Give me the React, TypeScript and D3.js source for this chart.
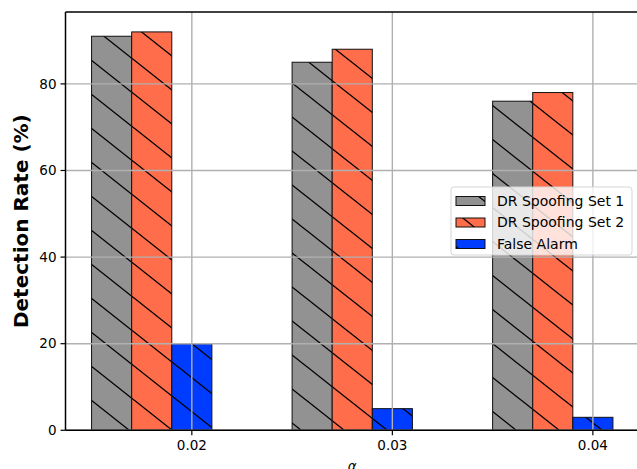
import React from "react";
import * as d3 from "d3";

// Detection rates per alpha threshold
const alphaLabels = ["0.02", "0.03", "0.04"];
const seriesNames = ["DR Spoofing Set 1", "DR Spoofing Set 2", "False Alarm"];
const spoofingSet1 = [91, 85, 76];
const spoofingSet2 = [92, 88, 78];
const falseAlarm = [20, 5, 3];
const yTicks = [0, 20, 40, 60, 80];

const seriesValues = [spoofingSet1, spoofingSet2, falseAlarm];
const seriesColors = ["#929292", "#ff6d4b", "#003cff"];

const W = 637;
const H = 469;
const plot = { left: 65.5, right: 639, top: 12, bottom: 430.3 };
const barWidth = 0.2;
const FONT = "'DejaVu Sans', sans-serif";

export default function App() {
  const x = d3.scaleLinear().domain([-0.63, 2.23]).range([plot.left, plot.right]);
  const y = d3.scaleLinear().domain([0, 96.6]).range([plot.bottom, plot.top]);

  const barOffsets = [-2 * barWidth, -barWidth, 0];

  const legendX = 451;
  const legendY = 187;
  const legendRows = [201, 222.5, 244];

  return (
    <svg
      width={W}
      height={H}
      style={{ position: "absolute", left: 0, top: 0, background: "#fff" }}
      fontFamily={FONT}
    >
      <defs>
        <pattern id="hatch" patternUnits="userSpaceOnUse" x={91} y={332} width={43} height={34}>
          <line x1={-43} y1={-34} x2={86} y2={68} stroke="#000" strokeWidth={1.3} />
          <line x1={-43} y1={0} x2={43} y2={68} stroke="#000" strokeWidth={1.3} />
          <line x1={0} y1={-34} x2={86} y2={34} stroke="#000" strokeWidth={1.3} />
        </pattern>
        <clipPath id="plotClip">
          <rect x={plot.left} y={plot.top} width={plot.right - plot.left} height={plot.bottom - plot.top} />
        </clipPath>
      </defs>

      {/* bars */}
      <g clipPath="url(#plotClip)">
        {seriesValues.map((vals, si) =>
          vals.map((v, i) => {
            const x0 = x(i + barOffsets[si] - barWidth / 2);
            const x1 = x(i + barOffsets[si] + barWidth / 2);
            return (
              <g key={`${si}-${i}`}>
                <rect x={x0} y={y(v)} width={x1 - x0} height={y(0) - y(v)} fill={seriesColors[si]} />
                <rect x={x0} y={y(v)} width={x1 - x0} height={y(0) - y(v)} fill="url(#hatch)" stroke="#111" strokeWidth={1} />
              </g>
            );
          })
        )}

        {/* grid above the bars */}
        {yTicks.map((t) => (
          <line key={`gy${t}`} x1={plot.left} x2={plot.right} y1={y(t)} y2={y(t)} stroke="#b0b0b0" strokeWidth={1.4} />
        ))}
        {alphaLabels.map((_, i) => (
          <line key={`gx${i}`} x1={x(i)} x2={x(i)} y1={plot.top} y2={plot.bottom} stroke="#b0b0b0" strokeWidth={1.4} />
        ))}
      </g>

      {/* spines */}
      <line x1={plot.left} x2={plot.left} y1={plot.top} y2={plot.bottom} stroke="#000" strokeWidth={1.5} />
      <line x1={plot.left} x2={plot.right} y1={plot.top} y2={plot.top} stroke="#000" strokeWidth={1.5} />
      <line x1={plot.left} x2={plot.right} y1={plot.bottom} y2={plot.bottom} stroke="#000" strokeWidth={1.5} />
      <line x1={plot.right} x2={plot.right} y1={plot.top} y2={plot.bottom} stroke="#000" strokeWidth={1.5} />

      {/* y axis */}
      {yTicks.map((t) => (
        <g key={`yt${t}`}>
          <line x1={plot.left - 5} x2={plot.left} y1={y(t)} y2={y(t)} stroke="#000" strokeWidth={1.2} />
          <text x={plot.left - 9} y={y(t)} dy="0.35em" textAnchor="end" fontSize={13.5} fill="#000">
            {t}
          </text>
        </g>
      ))}

      {/* x axis */}
      {alphaLabels.map((lab, i) => (
        <g key={`xt${i}`}>
          <line x1={x(i)} x2={x(i)} y1={plot.bottom} y2={plot.bottom + 5} stroke="#000" strokeWidth={1.2} />
          <text x={x(i)} y={plot.bottom + 20} textAnchor="middle" fontSize={13.5} fill="#000">
            {lab}
          </text>
        </g>
      ))}

      <text
        x={(plot.left + plot.right) / 2}
        y={plot.bottom + 41}
        textAnchor="middle"
        fontSize={13.5}
        fontStyle="italic"
        fill="#000"
      >
        α
      </text>

      <text
        transform={`translate(28, ${(plot.top + plot.bottom) / 2}) rotate(-90)`}
        textAnchor="middle"
        fontSize={20}
        fontWeight="bold"
        fill="#000"
      >
        Detection Rate (%)
      </text>

      {/* legend */}
      <rect x={legendX} y={legendY} width={181} height={68} rx={3} fill="#fff" fillOpacity={0.8} stroke="#d5d5d5" strokeWidth={1} />
      {seriesNames.map((name, si) => (
        <g key={name}>
          <rect x={456} y={legendRows[si] - 4.5} width={29} height={9} fill={seriesColors[si]} />
          <rect x={456} y={legendRows[si] - 4.5} width={29} height={9} fill="url(#hatch)" stroke="#111" strokeWidth={1} />
          <text x={497} y={legendRows[si]} dy="0.35em" fontSize={14} fill="#000">
            {name}
          </text>
        </g>
      ))}
    </svg>
  );
}
